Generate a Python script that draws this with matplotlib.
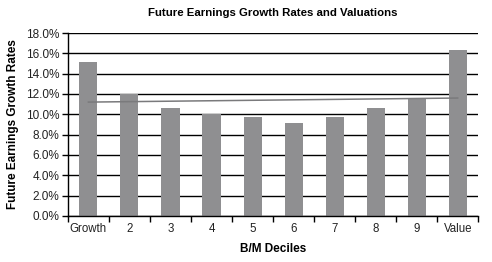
import numpy as np
import matplotlib.pyplot as plt
from matplotlib.ticker import FuncFormatter

plt.rcParams['font.family'] = ['Liberation Sans', 'DejaVu Sans']

categories = ['Growth', '2', '3', '4', '5', '6', '7', '8', '9', 'Value']
growth_rates = [15.1, 12.0, 10.6, 10.0, 9.75, 9.15, 9.75, 10.6, 11.6, 16.3]
trend_ends = [11.2, 11.6]

fig = plt.figure(figsize=(4.92, 2.62), dpi=100)
ax = fig.add_axes([0.138, 0.176, 0.834, 0.698])

x = np.arange(len(categories))
ax.bar(x, growth_rates, width=0.44, color='#8f8f91', zorder=2)
ax.plot([x[0], x[-1]], trend_ends, color='#7a7a7c', lw=1.1, zorder=3)

ax.set_xlim(-0.5, len(categories) - 0.5)
ax.set_ylim(0, 18)
ax.set_yticks(np.arange(0, 18.1, 2))
ax.yaxis.set_major_formatter(FuncFormatter(lambda v, p: f'{v:.1f}%'))
ax.yaxis.grid(True, color='black', lw=1.0, zorder=1)
ax.set_axisbelow(True)

ax.set_xticks(x)
ax.set_xticklabels(categories)
ax.tick_params(axis='x', length=0, labelsize=8.3, pad=5, labelcolor='#222222')
ax.set_xticks(np.arange(-0.5, len(categories), 1), minor=True)
ax.tick_params(axis='x', which='minor', length=4, width=1, direction='out')
ax.tick_params(axis='y', length=4, width=1, labelsize=8.5, pad=2,
               labelcolor='#222222')

for s in ['top', 'right']:
    ax.spines[s].set_visible(False)
for s in ['left', 'bottom']:
    ax.spines[s].set_color('black')
    ax.spines[s].set_linewidth(1.0)

ax.set_title('Future Earnings Growth Rates and Valuations', fontsize=8.2,
             fontweight='bold', pad=12)
ax.set_xlabel('B/M Deciles', fontsize=8.5, fontweight='bold', labelpad=6)
ax.set_ylabel('Future Earnings Growth Rates', fontsize=8.5, fontweight='bold',
              labelpad=5)

fig.savefig('out.png', dpi=100)
